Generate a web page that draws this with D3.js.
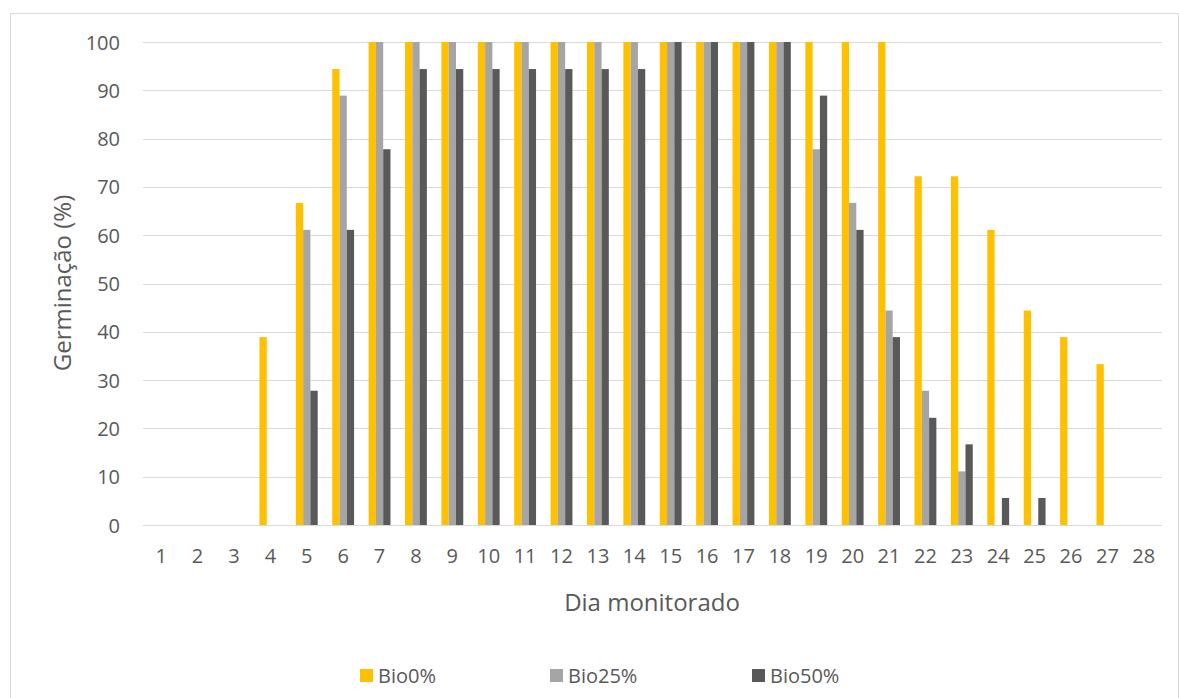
<!DOCTYPE html>
<html>
<head>
<meta charset="utf-8">
<script src="https://cdn.jsdelivr.net/npm/d3@7/dist/d3.min.js"></script>
<style>
  html, body { margin: 0; padding: 0; background: #fff; }
  svg { display: block; }
  text { font-family: "Open Sans", sans-serif; fill: #595959; }
</style>
</head>
<body>
<svg id="chart" width="1179" height="698"></svg>
<script>
const days = ["1","2","3","4","5","6","7","8","9","10","11","12","13","14","15","16","17","18","19","20","21","22","23","24","25","26","27","28"];
const seriesNames = ["Bio0%", "Bio25%", "Bio50%"];
const bio0  = [0,0,0,38.9,66.7,94.4,100,100,100,100,100,100,100,100,100,100,100,100,100,100,100,72.2,72.2,61.1,44.4,38.9,33.3,0];
const bio25 = [0,0,0,0,61.1,88.9,100,100,100,100,100,100,100,100,100,100,100,100,77.8,66.7,44.4,27.8,11.1,0,0,0,0,0];
const bio50 = [0,0,0,0,27.8,61.1,77.8,94.4,94.4,94.4,94.4,94.4,94.4,94.4,100,100,100,100,88.9,61.1,38.9,22.2,16.7,5.6,5.6,0,0,0];
const yTicks = [0,10,20,30,40,50,60,70,80,90,100];
const colors = ["#FFC000", "#A5A5A5", "#595959"];

const seriesValues = [bio0, bio25, bio50];
const svg = d3.select("#chart");

// outer chart border
svg.append("rect")
  .attr("x", 10.5).attr("y", 13.5)
  .attr("width", 1168).attr("height", 700)
  .attr("fill", "none").attr("stroke", "#d9d9d9").attr("stroke-width", 1);

const plot = { left: 143, right: 1162, top: 42, bottom: 525 };

const x = d3.scaleBand().domain(days).range([plot.left, plot.right]).padding(0);
const bw = x.bandwidth();
const xs = d3.scaleBand().domain(seriesNames).range([bw * 0.2, bw * 0.8]).padding(0);
const y = d3.scaleLinear().domain([0, 100]).range([plot.bottom, plot.top]);

// gridlines
svg.append("g").selectAll("line").data(yTicks.filter(d => d > 0)).join("line")
  .attr("x1", plot.left).attr("x2", plot.right)
  .attr("y1", d => Math.round(y(d)) + 0.5).attr("y2", d => Math.round(y(d)) + 0.5)
  .attr("stroke", "#d9d9d9").attr("stroke-width", 1);

// y tick labels
const yAxis = d3.axisLeft(y).tickValues(yTicks).tickSize(0).tickPadding(0);
const yg = svg.append("g").attr("transform", `translate(120,0)`).call(yAxis);
yg.select(".domain").remove();
yg.selectAll("text").attr("font-size", 20).attr("fill", "#595959")
  .style("font-family", "'Open Sans', sans-serif").attr("dy", "0.35em");

// bars
const groups = svg.append("g").selectAll("g").data(days).join("g")
  .attr("transform", d => `translate(${x(d)},0)`);
groups.selectAll("rect")
  .data((d, i) => seriesNames.map((s, k) => ({ s, k, v: seriesValues[k][i] })))
  .join("rect")
  .attr("x", d => xs(d.s))
  .attr("width", xs.bandwidth())
  .attr("y", d => y(d.v))
  .attr("height", d => y(0) - y(d.v))
  .attr("fill", d => colors[d.k]);

// x axis line
svg.append("line")
  .attr("x1", plot.left).attr("x2", plot.right)
  .attr("y1", plot.bottom + 0.5).attr("y2", plot.bottom + 0.5)
  .attr("stroke", "#d9d9d9").attr("stroke-width", 1);

// x tick labels
const xAxis = d3.axisBottom(x).tickSize(0).tickPadding(0);
const xg = svg.append("g").attr("transform", `translate(0,${plot.bottom})`).call(xAxis);
xg.select(".domain").remove();
xg.selectAll("text").attr("font-size", 20).attr("fill", "#595959")
  .style("font-family", "'Open Sans', sans-serif").attr("y", 31).attr("dy", "0.35em");

// axis titles
svg.append("text").attr("x", 652).attr("y", 603).attr("dy", "0.35em")
  .attr("text-anchor", "middle").attr("font-size", 24).text("Dia monitorado");
svg.append("text").attr("transform", "translate(63,283) rotate(-90)").attr("dy", "0.35em")
  .attr("text-anchor", "middle").attr("font-size", 24).text("Germinação (%)");

// legend
const legendX = [360, 550, 752];
const lg = svg.append("g").selectAll("g").data(seriesNames).join("g")
  .attr("transform", (d, i) => `translate(${legendX[i]},669)`);
lg.append("rect").attr("width", 13).attr("height", 13).attr("fill", (d, i) => colors[i]);
lg.append("text").attr("x", 18).attr("y", 6.5).attr("dy", "0.35em")
  .attr("font-size", 20).text(d => d);
</script>
</body>
</html>
